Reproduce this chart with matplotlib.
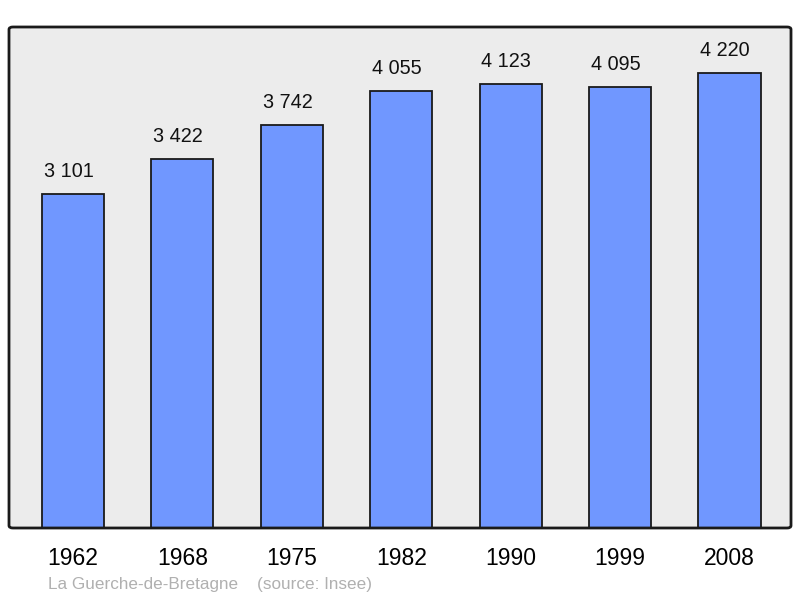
import matplotlib.pyplot as plt
from matplotlib.patches import FancyBboxPatch

years = ['1962', '1968', '1975', '1982', '1990', '1999', '2008']
population = [3101, 3422, 3742, 4055, 4123, 4095, 4220]
value_labels = ['3 101', '3 422', '3 742', '4 055', '4 123', '4 095', '4 220']

plt.rcParams['font.family'] = ['Liberation Sans', 'DejaVu Sans']

fig = plt.figure(figsize=(8, 5.98), dpi=100)
ax = fig.add_axes([9 / 800, 70 / 598, 782 / 800, 501 / 598])
ax.set_facecolor('#ececec')

x = list(range(len(years)))
ax.bar(x, population, width=0.567, color='#7097ff', edgecolor='#1a1a1a', linewidth=1.3, zorder=2)
for xi, v, lab in zip(x, population, value_labels):
    ax.text(xi - 0.04, v + 120, lab, ha='center', va='bottom', fontsize=14.3, color='#111111')

ax.set_xlim(-0.585, 6.562)
ax.set_ylim(0, 4650)
ax.set_yticks([])
ax.set_xticks(x)
ax.set_xticklabels(years, fontsize=16.5)
ax.tick_params(axis='x', length=0, pad=14)
for s in ax.spines.values():
    s.set_visible(False)

frame = FancyBboxPatch((0, 0), 1, 1, boxstyle='round,pad=0,rounding_size=0.005',
                       transform=ax.transAxes, fill=False, edgecolor='#1a1a1a',
                       linewidth=2, clip_on=False, zorder=5)
ax.add_patch(frame)

fig.text(48 / 800, 1 - 584 / 598, 'La Guerche-de-Bretagne    (source: Insee)',
         fontsize=12.3, color='#b0b0b0', ha='left', va='center')

fig.savefig('out.png', dpi=100)
